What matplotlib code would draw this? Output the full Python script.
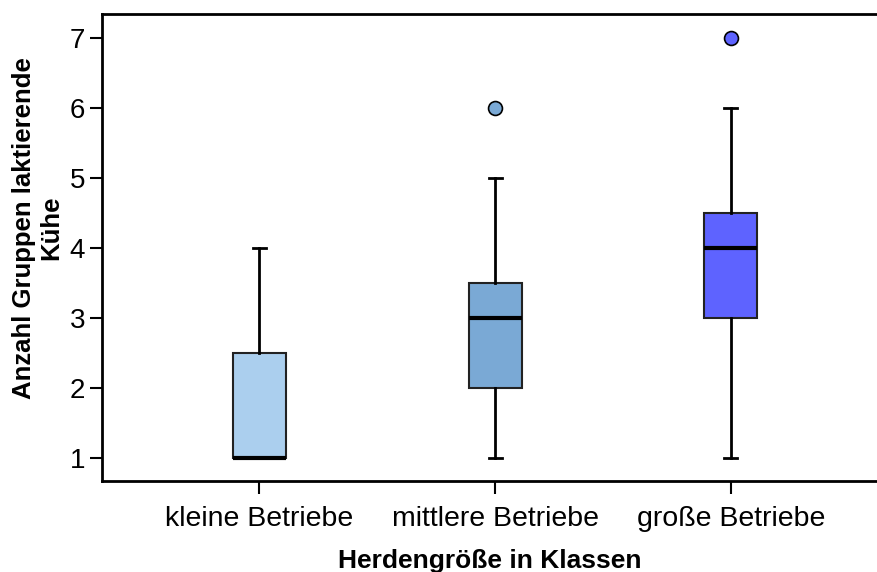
import matplotlib.pyplot as plt

plt.rcParams['font.family'] = ['Liberation Sans', 'DejaVu Sans']

# Daten
klassen = ['kleine Betriebe', 'mittlere Betriebe', 'große Betriebe']
whislo = [1, 1, 1]
q1 = [1, 2, 3]
med = [1, 3, 4]
q3 = [2.5, 3.5, 4.5]
whishi = [4, 5, 6]
fliers = [[], [6], [7]]
farben = ['#abcfee', '#7aa9d5', '#5e63ff']

stats = []
for i in range(len(klassen)):
    stats.append({'whislo': whislo[i], 'q1': q1[i], 'med': med[i], 'q3': q3[i],
                  'whishi': whishi[i], 'fliers': fliers[i], 'label': klassen[i]})

fig = plt.figure(figsize=(8.77, 5.72), dpi=100)
ax = fig.add_axes([102 / 877, 91 / 572, 1 - 102 / 877, 467 / 572])

pos = [1, 2, 3]
bp = ax.bxp(stats, positions=pos, widths=0.225, patch_artist=True,
            capwidths=0.055, showfliers=True,
            boxprops=dict(edgecolor='#222222', linewidth=1.5),
            medianprops=dict(color='black', linewidth=3),
            whiskerprops=dict(color='black', linewidth=2),
            capprops=dict(color='black', linewidth=2),
            flierprops=dict(marker='o', markersize=10, markeredgecolor='black',
                            markeredgewidth=1.2))
for box, f in zip(bp['boxes'], farben):
    box.set_facecolor(f)
for fl, f in zip(bp['fliers'], farben):
    fl.set_markerfacecolor(f)

ax.set_xlim(0.333, 3.62)
ax.set_ylim(0.67, 7.34)
ax.set_yticks([1, 2, 3, 4, 5, 6, 7])
ax.set_xticks(pos)
ax.set_xticklabels(klassen)
ax.tick_params(axis='x', labelsize=20.5, pad=9)
ax.tick_params(axis='y', labelsize=20, pad=3)
ax.tick_params(axis='both', length=9, width=1.5, color='black')
for s in ['left', 'top', 'bottom']:
    ax.spines[s].set_linewidth(2)
ax.spines['right'].set_visible(False)

ax.set_xlabel('Herdengröße in Klassen', fontweight='bold', fontsize=19, labelpad=12)
fig.text(0.043, 0.601, 'Anzahl Gruppen laktierende\nKühe', rotation=90,
         ha='center', va='center', multialignment='center',
         fontweight='bold', fontsize=18.5)

plt.savefig('out.png', dpi=100)
